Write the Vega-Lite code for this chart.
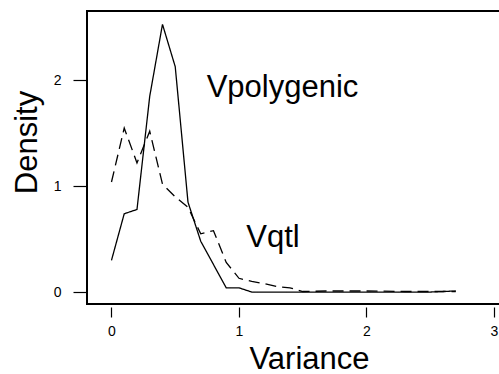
{
  "$schema": "https://vega.github.io/schema/vega-lite/v6.json",
  "width": 414,
  "height": 293,
  "autosize": {"type": "none"},
  "padding": {"left": 87, "top": 11, "right": 0, "bottom": 70},
  "background": "white",
  "config": {
    "view": {"stroke": "black", "strokeWidth": 2},
    "font": "Liberation Sans"
  },
  "datasets": {
    "curves": [
      {"variance": 0.0, "density": 0.30, "series": "Vpolygenic"},
      {"variance": 0.1, "density": 0.74, "series": "Vpolygenic"},
      {"variance": 0.2, "density": 0.78, "series": "Vpolygenic"},
      {"variance": 0.3, "density": 1.85, "series": "Vpolygenic"},
      {"variance": 0.4, "density": 2.53, "series": "Vpolygenic"},
      {"variance": 0.5, "density": 2.13, "series": "Vpolygenic"},
      {"variance": 0.6, "density": 0.85, "series": "Vpolygenic"},
      {"variance": 0.7, "density": 0.48, "series": "Vpolygenic"},
      {"variance": 0.8, "density": 0.26, "series": "Vpolygenic"},
      {"variance": 0.9, "density": 0.04, "series": "Vpolygenic"},
      {"variance": 1.0, "density": 0.04, "series": "Vpolygenic"},
      {"variance": 1.1, "density": 0.0, "series": "Vpolygenic"},
      {"variance": 1.5, "density": 0.0, "series": "Vpolygenic"},
      {"variance": 2.0, "density": 0.0, "series": "Vpolygenic"},
      {"variance": 2.5, "density": 0.0, "series": "Vpolygenic"},
      {"variance": 2.7, "density": 0.01, "series": "Vpolygenic"},
      {"variance": 0.0, "density": 1.04, "series": "Vqtl"},
      {"variance": 0.1, "density": 1.55, "series": "Vqtl"},
      {"variance": 0.2, "density": 1.22, "series": "Vqtl"},
      {"variance": 0.3, "density": 1.52, "series": "Vqtl"},
      {"variance": 0.4, "density": 1.02, "series": "Vqtl"},
      {"variance": 0.5, "density": 0.90, "series": "Vqtl"},
      {"variance": 0.6, "density": 0.80, "series": "Vqtl"},
      {"variance": 0.7, "density": 0.55, "series": "Vqtl"},
      {"variance": 0.8, "density": 0.58, "series": "Vqtl"},
      {"variance": 0.9, "density": 0.28, "series": "Vqtl"},
      {"variance": 1.0, "density": 0.13, "series": "Vqtl"},
      {"variance": 1.1, "density": 0.10, "series": "Vqtl"},
      {"variance": 1.2, "density": 0.08, "series": "Vqtl"},
      {"variance": 1.3, "density": 0.05, "series": "Vqtl"},
      {"variance": 1.4, "density": 0.04, "series": "Vqtl"},
      {"variance": 1.5, "density": 0.005, "series": "Vqtl"},
      {"variance": 1.7, "density": 0.01, "series": "Vqtl"},
      {"variance": 2.0, "density": 0.01, "series": "Vqtl"},
      {"variance": 2.3, "density": 0.005, "series": "Vqtl"},
      {"variance": 2.7, "density": 0.005, "series": "Vqtl"}
    ],
    "labels": [
      {"variance": 1.341, "density": 1.843, "label": "Vpolygenic"},
      {"variance": 1.267, "density": 0.425, "label": "Vqtl"}
    ]
  },
  "encoding": {
    "x": {
      "field": "variance", "type": "quantitative",
      "scale": {"domain": [-0.192, 3.055], "nice": false, "zero": false},
      "axis": {
        "title": "Variance", "values": [0, 1, 2, 3], "format": "d",
        "grid": false, "domain": false, "offset": 3,
        "tickSize": 10, "tickColor": "black", "tickWidth": 1.2,
        "labelFontSize": 14, "labelColor": "black", "labelPadding": 7, "labelFlush": false,
        "titleFontSize": 31, "titleFontWeight": "normal", "titleColor": "black",
        "titleX": 222, "titleY": 61, "titleBaseline": "alphabetic", "titleAnchor": null
      }
    },
    "y": {
      "field": "density", "type": "quantitative",
      "scale": {"domain": [-0.113, 2.656], "nice": false, "zero": false},
      "axis": {
        "title": "Density", "values": [0, 1, 2], "format": "d",
        "grid": false, "domain": false,
        "tickSize": 14, "tickColor": "black", "tickWidth": 1.2,
        "labelFontSize": 14, "labelColor": "black", "labelPadding": 12, "labelFlush": false,
        "titleFontSize": 31, "titleFontWeight": "normal", "titleColor": "black",
        "titleX": -51, "titleY": 131, "titleAngle": -90, "titleAlign": "center", "titleBaseline": "alphabetic"
      }
    }
  },
  "layer": [
    {
      "data": {"name": "curves"},
      "mark": {"type": "line", "color": "black", "strokeWidth": 1.3},
      "encoding": {
        "detail": {"field": "series"},
        "strokeDash": {
          "field": "series", "type": "nominal",
          "scale": {"domain": ["Vpolygenic", "Vqtl"], "range": [[1, 0], [11, 6]]},
          "legend": null
        }
      }
    },
    {
      "data": {"name": "labels"},
      "mark": {"type": "text", "fontSize": 31, "color": "black", "align": "center", "baseline": "alphabetic"},
      "encoding": {"text": {"field": "label"}}
    }
  ]
}
